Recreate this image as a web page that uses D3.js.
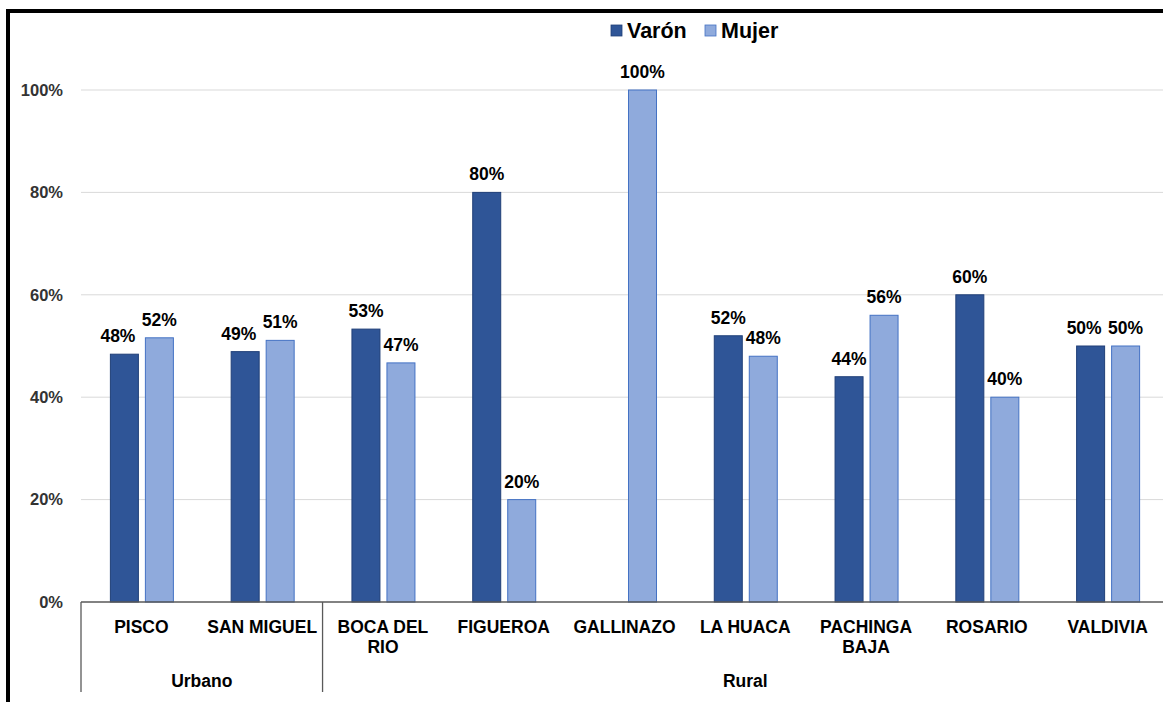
<!DOCTYPE html>
<html><head><meta charset="utf-8">
<script src="https://cdn.jsdelivr.net/npm/d3@7"></script>
<style>body{margin:0;background:#fff}svg{display:block}</style>
</head><body>
<svg id="c" width="1163" height="702"></svg>
<script>
const categories = [["PISCO"],["SAN MIGUEL"],["BOCA DEL","RIO"],["FIGUEROA"],["GALLINAZO"],["LA HUACA"],["PACHINGA","BAJA"],["ROSARIO"],["VALDIVIA"]];
const groups = [{name:"Urbano", from:0, to:2},{name:"Rural", from:2, to:9}];
const varon = [0.484, 0.489, 0.533, 0.80, 0, 0.52, 0.44, 0.60, 0.50];
const mujer = [0.516, 0.511, 0.467, 0.20, 1.00, 0.48, 0.56, 0.40, 0.50];
const varonLabels = ["48%","49%","53%","80%","","52%","44%","60%","50%"];
const mujerLabels = ["52%","51%","47%","20%","100%","48%","56%","40%","50%"];
const series = ["Varón","Mujer"];
const yTicks = [0,0.2,0.4,0.6,0.8,1.0];

(function(){
const svg = d3.select("#c");
const font = "Arial, 'Liberation Sans', sans-serif";
const pL = 81, pR = 1168, pT = 90, pB = 602;
const x = d3.scaleBand().domain(d3.range(categories.length)).range([pL,pR]).padding(0);
const y = d3.scaleLinear().domain([0,1]).range([pB,pT]);
const colV = "#2F5597", colM = "#8FAADC";

svg.append("g").selectAll("line").data(yTicks.filter(d=>d>0)).join("line")
  .attr("x1",pL).attr("x2",1163).attr("y1",d=>y(d)).attr("y2",d=>y(d))
  .attr("stroke","#d9d9d9").attr("stroke-width",1);

const yAxis = d3.axisLeft(y).tickValues(yTicks).tickFormat(d3.format(".0%")).tickSize(0).tickPadding(18);
const ya = svg.append("g").attr("transform",`translate(${pL},0)`).call(yAxis);
ya.select(".domain").remove();
ya.selectAll("text").attr("font-family",font).attr("font-size",16.5).attr("font-weight","bold").attr("fill","#333");

const bw = 28;
svg.append("g").selectAll("rect").data(varon).join("rect")
  .attr("x",(d,i)=>x(i)+x.bandwidth()/2-31).attr("width",bw)
  .attr("y",d=>y(d)).attr("height",d=>y(0)-y(d))
  .attr("fill",colV).attr("stroke","#203F78").attr("stroke-width",1)
  .attr("display",d=>d>0?null:"none");
svg.append("g").selectAll("rect").data(mujer).join("rect")
  .attr("x",(d,i)=>x(i)+x.bandwidth()/2+4).attr("width",bw)
  .attr("y",d=>y(d)).attr("height",d=>y(0)-y(d))
  .attr("fill",colM).attr("stroke","#4472C4").attr("stroke-width",1);

const lblSize = 17.5;
const vl = svg.append("g").selectAll("text").data(varon).join("text")
  .attr("x",(d,i)=>x(i)+x.bandwidth()/2-31+bw/2).attr("y",d=>y(d)-12)
  .attr("text-anchor","middle").attr("font-family",font).attr("font-size",lblSize).attr("font-weight","bold").attr("fill","#000")
  .text((d,i)=>varonLabels[i]);
const ml = svg.append("g").selectAll("text").data(mujer).join("text")
  .attr("x",(d,i)=>x(i)+x.bandwidth()/2+4+bw/2).attr("y",d=>y(d)-12)
  .attr("text-anchor","middle").attr("font-family",font).attr("font-size",lblSize).attr("font-weight","bold").attr("fill","#000")
  .text((d,i)=>mujerLabels[i]);
// simple collision avoidance: push Varón label left if it touches the Mujer label
const vNodes = vl.nodes(), mNodes = ml.nodes();
vNodes.forEach((vn,i)=>{
  if(!varonLabels[i]) return;
  const a = vn.getBBox(), b = mNodes[i].getBBox();
  const yOverlap = a.y < b.y+b.height && b.y < a.y+a.height;
  const gap = b.x - (a.x+a.width);
  if(yOverlap && gap < 6){
    vn.setAttribute("x", +vn.getAttribute("x") - (6-gap));
  }
});

svg.append("line").attr("x1",pL).attr("x2",1163).attr("y1",pB).attr("y2",pB).attr("stroke","#595959").attr("stroke-width",1.3);

const cat = svg.append("g").selectAll("text").data(categories).join("text")
  .attr("x",(d,i)=>x(i)+x.bandwidth()/2).attr("y",633)
  .attr("text-anchor","middle").attr("font-family",font).attr("font-size",17.5).attr("font-weight","bold").attr("fill","#000");
cat.selectAll("tspan").data(d=>d).join("tspan")
  .attr("x",function(){return this.parentNode.getAttribute("x");})
  .attr("dy",(d,i)=>i===0?0:19.5).text(d=>d);

const sepX = i => i<categories.length ? x(i) : pR;
svg.append("g").selectAll("line").data([0,2,9]).join("line")
  .attr("x1",sepX).attr("x2",sepX)
  .attr("y1",pB).attr("y2",692).attr("stroke","#595959").attr("stroke-width",1.3);
svg.append("g").selectAll("text").data(groups).join("text")
  .attr("x",d=>(sepX(d.from)+sepX(d.to))/2).attr("y",687)
  .attr("text-anchor","middle").attr("font-family",font).attr("font-size",17.5).attr("font-weight","bold").attr("fill","#000")
  .text(d=>d.name);

const legend = [{n:series[0],c:colV,s:"#203F78",x:611},{n:series[1],c:colM,s:"#4472C4",x:705}];
const lg = svg.append("g").selectAll("g").data(legend).join("g").attr("transform",d=>`translate(${d.x},25)`);
lg.append("rect").attr("width",11).attr("height",11).attr("fill",d=>d.c).attr("stroke",d=>d.s).attr("stroke-width",0.8);
lg.append("text").attr("x",16).attr("y",13).attr("font-family",font).attr("font-size",21.5).attr("font-weight","bold").attr("fill","#000").text(d=>d.n);

svg.append("rect").attr("x",8).attr("y",11).attr("width",1200).attr("height",760)
  .attr("fill","none").attr("stroke","#000").attr("stroke-width",4);
})();
</script>
</body></html>
